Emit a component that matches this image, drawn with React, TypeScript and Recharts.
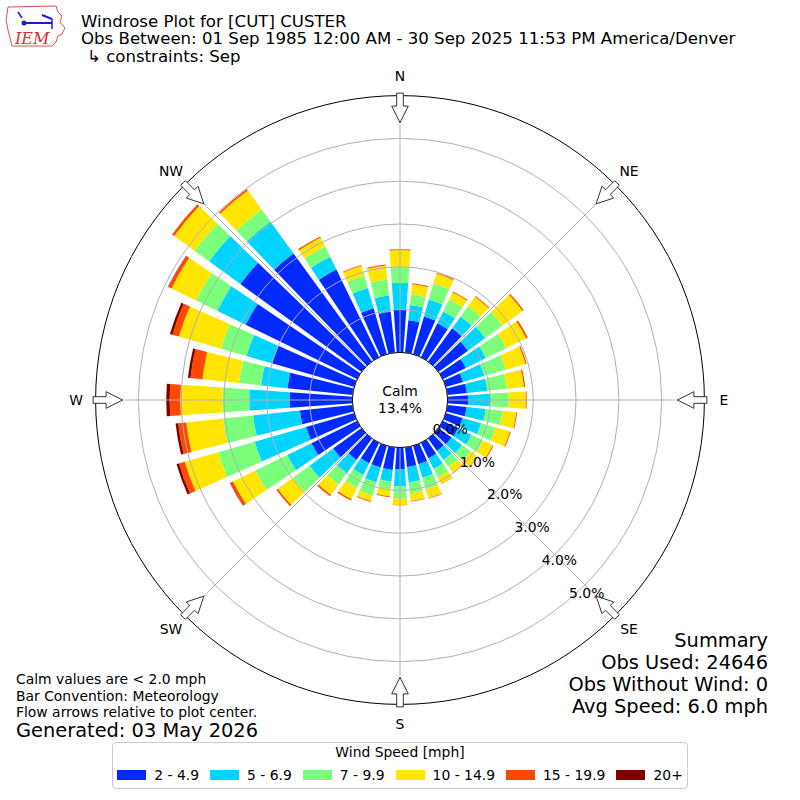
import React from "react";
import {
  RadialBarChart,
  RadialBar,
  PolarAngleAxis,
  PolarRadiusAxis,
  PolarGrid,
} from "recharts";

const FONT = "DejaVu Sans, Verdana, sans-serif";

// plot geometry (pixels)
const CX = 400;
const CY = 400;
const INNER_R = 47.6;
const OUTER_R = 304.4;

// direction bins (degrees, meteorological convention)
const directions = [
  0, 10, 20, 30, 40, 50, 60, 70, 80, 90, 100, 110, 120, 130, 140, 150, 160, 170,
  180, 190, 200, 210, 220, 230, 240, 250, 260, 270, 280, 290, 300, 310, 320, 330, 340, 350,
];

const speedBins = ["2 - 4.9", "5 - 6.9", "7 - 9.9", "10 - 14.9", "15 - 19.9", "20+"];
const binColors = ["#002aff", "#00d4ff", "#7bff7b", "#ffe500", "#ff4800", "#800000"];

// percent of observations per direction, one array per speed bin
const speed2to5 = [
  1.0, 0.76, 0.92, 0.88, 0.96, 0.85, 0.6, 0.42, 0.46, 0.49, 0.45, 0.41, 0.4, 0.38, 0.36, 0.4, 0.45, 0.46,
  0.51, 0.53, 0.53, 0.53, 0.62, 0.82, 1.19, 1.17, 1.24, 1.47, 1.53, 2.0, 2.9, 3.5, 3.12, 2.28, 1.12, 0.96,
];
const speed5to7 = [
  0.63, 0.36, 0.41, 0.31, 0.34, 0.5, 0.52, 0.52, 0.48, 0.51, 0.45, 0.45, 0.35, 0.3, 0.26, 0.28, 0.33, 0.36,
  0.4, 0.27, 0.36, 0.31, 0.39, 0.68, 0.63, 1.25, 1.1, 0.94, 0.62, 0.62, 0.74, 0.9, 0.92, 0.33, 0.49, 0.38,
];
const speed7to10 = [
  0.35, 0.25, 0.39, 0.31, 0.3, 0.5, 0.53, 0.52, 0.46, 0.43, 0.4, 0.35, 0.3, 0.25, 0.2, 0.22, 0.28, 0.26,
  0.28, 0.19, 0.32, 0.33, 0.32, 0.48, 0.83, 0.89, 0.7, 0.63, 0.52, 0.62, 0.55, 0.42, 0.35, 0.27, 0.3, 0.38,
];
const speed10to15 = [
  0.41, 0.24, 0.24, 0.19, 0.27, 0.58, 0.52, 0.48, 0.4, 0.4, 0.32, 0.35, 0.25, 0.2, 0.17, 0.17, 0.22, 0.18,
  0.15, 0.16, 0.14, 0.3, 0.3, 0.44, 0.58, 0.81, 0.87, 0.98, 0.86, 1.02, 0.64, 0.59, 0.55, 0.23, 0.24, 0.33,
];
const speed15to20 = [
  0.02, 0.02, 0.02, 0.02, 0.02, 0.03, 0.04, 0.03, 0.03, 0.02, 0.02, 0.02, 0.02, 0.01, 0.01, 0.01, 0.01, 0.01,
  0.01, 0.02, 0.02, 0.03, 0.04, 0.04, 0.07, 0.14, 0.19, 0.25, 0.28, 0.16, 0.08, 0.06, 0.04, 0.03, 0.02, 0.02,
];
const speed20plus = [
  0, 0, 0, 0, 0, 0, 0, 0, 0, 0, 0, 0, 0, 0, 0, 0, 0, 0,
  0, 0, 0, 0, 0, 0, 0.01, 0.06, 0.06, 0.08, 0.06, 0.06, 0.01, 0, 0, 0, 0, 0,
];

const compassTicks = [0, 45, 90, 135, 180, 225, 270, 315];
const compassLabels = ["N", "NE", "E", "SE", "S", "SW", "W", "NW"];
const radiusTicks = [0, 1, 2, 3, 4, 5];
const radiusMax = 5.82;
const calmPercent = 13.4;

const binKeys = ["s2", "s5", "s7", "s10", "s15", "s20"];
const binSeries = [speed2to5, speed5to7, speed7to10, speed10to15, speed15to20, speed20plus];

const data = directions.map((dir, i) => {
  const row: Record<string, number> = { dir };
  binKeys.forEach((key, j) => {
    row[key] = binSeries[j][i];
  });
  return row;
});

// compass bearing -> recharts angle (0 = east, counter-clockwise)
const gridAngles = compassTicks.map((t) => 90 - t);

const noteLines = [
  "Calm values are < 2.0 mph",
  "Bar Convention: Meteorology",
  "Flow arrows relative to plot center.",
];
const summaryLines = ["Summary", "Obs Used: 24646", "Obs Without Wind: 0", "Avg Speed: 6.0 mph"];

// shared polar setup; bearing 0 (north) is centred at the top, bins run clockwise
const polarProps = {
  width: 800,
  height: 800,
  data,
  cx: CX,
  cy: CY,
  innerRadius: INNER_R,
  outerRadius: OUTER_R,
  startAngle: 85,
  endAngle: -275,
  layout: "centric" as const,
  barCategoryGap: "10%",
  margin: { top: 0, right: 0, bottom: 0, left: 0 },
};

function CompassRose() {
  return (
    <g>
      {compassTicks.map((bearing, i) => {
        const a = (bearing * Math.PI) / 180;
        const ux = Math.sin(a);
        const uy = -Math.cos(a);
        const vx = -uy;
        const vy = ux;
        const R = OUTER_R;
        const pt = (r: number, t: number) => `${CX + r * ux + t * vx},${CY + r * uy + t * vy}`;
        const arrow = [
          pt(R + 2.5, -3.3),
          pt(R + 2.5, 3.3),
          pt(R - 10.5, 3.3),
          pt(R - 10.5, 8.3),
          pt(R - 27, 0),
          pt(R - 10.5, -8.3),
          pt(R - 10.5, -3.3),
        ].join(" ");
        return (
          <g key={bearing}>
            <polygon points={arrow} fill="#fff" stroke="#333" strokeWidth={1} />
            <text
              x={CX + (R + 19.5) * ux}
              y={CY + (R + 19.5) * uy}
              textAnchor="middle"
              dominantBaseline="central"
              fontFamily={FONT}
              fontSize={13.9}
              fill="#000"
            >
              {compassLabels[i]}
            </text>
          </g>
        );
      })}
    </g>
  );
}

function RadiusTick(props: any) {
  const { x, y, payload } = props;
  const cx = props.cx ?? CX;
  const cy = props.cy ?? CY;
  const v = payload.value as number;
  return (
    <g>
      {v === 0 && (
        <g>
          <circle cx={cx} cy={cy} r={Math.hypot(x - cx, y - cy)} fill="#fff" stroke="#000" strokeWidth={1} />
          <text x={cx} y={cy - 4} textAnchor="middle" fontFamily={FONT} fontSize={13.9} fill="#000">
            Calm
          </text>
          <text x={cx} y={cy + 13} textAnchor="middle" fontFamily={FONT} fontSize={13.9} fill="#000">
            {calmPercent.toFixed(1)}%
          </text>
        </g>
      )}
      <text x={x + 2} y={y - 3} textAnchor="start" fontFamily={FONT} fontSize={13.9} fill="#000">
        {v.toFixed(1)}%
      </text>
    </g>
  );
}

function Logo() {
  return (
    <g>
      <path
        d="M8,7 L56,6 L58,12 L62,16 L60,22 L65,28 L62,34 L58,36 L56,42 L52,46 L12,46 L10,38 L8,30 L6,20 Z"
        fill="#fff"
        stroke="#e05050"
        strokeWidth={1}
      />
      <line x1={24} y1={23} x2={52} y2={23} stroke="#1a1adc" strokeWidth={2} />
      <circle cx={24} cy={23} r={2.5} fill="#1a1adc" />
      <line x1={42} y1={15} x2={52} y2={19} stroke="#1a1adc" strokeWidth={2} />
      <line x1={52} y1={19} x2={52} y2={29} stroke="#1a1adc" strokeWidth={1.5} />
      <line x1={18} y1={12} x2={22} y2={18} stroke="#1a1adc" strokeWidth={1.5} />
      <text x={15} y={44} fontFamily="DejaVu Serif, serif" fontStyle="italic" fontSize={16} fill="#d03030">
        IEM
      </text>
    </g>
  );
}

export default function App() {
  return (
    <div
      style={{
        position: "absolute",
        left: 0,
        top: 0,
        width: 800,
        height: 800,
        background: "#fff",
        overflow: "hidden",
        fontFamily: FONT,
      }}
    >
      {/* bars */}
      <div style={{ position: "absolute", left: 0, top: 0 }}>
        <RadialBarChart {...polarProps}>
          <PolarAngleAxis type="category" dataKey="dir" axisLine={false} tickLine={false} tick={false} />
          <PolarRadiusAxis
            type="number"
            domain={[0, radiusMax]}
            allowDataOverflow
            ticks={radiusTicks}
            axisLine={false}
            tickLine={false}
            tick={false}
          />
          {binKeys.map((key, j) => (
            <RadialBar
              key={key}
              dataKey={key}
              name={speedBins[j]}
              stackId="wind"
              fill={binColors[j]}
              legendType="none"
              isAnimationActive={false}
            />
          ))}
        </RadialBarChart>
      </div>

      {/* grid, outer ring and radial labels drawn over the bars */}
      <div style={{ position: "absolute", left: 0, top: 0, pointerEvents: "none" }}>
        <RadialBarChart {...polarProps}>
          <PolarGrid gridType="circle" polarAngles={gridAngles} stroke="#b0b0b0" strokeWidth={1} />
          <PolarAngleAxis
            type="category"
            dataKey="dir"
            axisLineType="circle"
            axisLine={{ stroke: "#000", strokeWidth: 1 }}
            tickLine={false}
            tick={false}
          />
          <PolarRadiusAxis
            type="number"
            domain={[0, radiusMax]}
            allowDataOverflow
            ticks={radiusTicks}
            angle={-50.3}
            axisLine={false}
            tickLine={false}
            tick={RadiusTick}
          />
        </RadialBarChart>
      </div>

      <svg width={800} height={800} style={{ position: "absolute", left: 0, top: 0, pointerEvents: "none" }}>
        <CompassRose />
        <Logo />
        <text x={81} y={26.5} fontFamily={FONT} fontSize={16.6} fill="#000">
          Windrose Plot for [CUT] CUSTER
        </text>
        <text x={81} y={44} fontFamily={FONT} fontSize={16.6} fill="#000">
          Obs Between: 01 Sep 1985 12:00 AM - 30 Sep 2025 11:53 PM America/Denver
        </text>
        <text x={87} y={61.5} fontFamily={FONT} fontSize={16.6} fill="#000">
          ↳ constraints: Sep
        </text>
        {noteLines.map((line, i) => (
          <text key={line} x={16} y={684 + i * 16.5} fontFamily={FONT} fontSize={13.9} fill="#000">
            {line}
          </text>
        ))}
        <text x={16} y={737} fontFamily={FONT} fontSize={19.4} fill="#000">
          Generated: 03 May 2026
        </text>
        {summaryLines.map((line, i) => (
          <text
            key={line}
            x={768}
            y={647 + i * 22}
            textAnchor="end"
            fontFamily={FONT}
            fontSize={19.4}
            fill="#000"
          >
            {line}
          </text>
        ))}
      </svg>

      <div
        style={{
          position: "absolute",
          left: 112,
          top: 742,
          width: 576,
          height: 47,
          boxSizing: "border-box",
          border: "1px solid #cccccc",
          borderRadius: 4,
          background: "#fff",
        }}
      >
        <div
          style={{
            position: "absolute",
            top: 1,
            left: 0,
            right: 0,
            textAlign: "center",
            fontSize: 13.9,
            lineHeight: "17px",
          }}
        >
          Wind Speed [mph]
        </div>
        <div
          style={{
            position: "absolute",
            top: 24,
            left: 0,
            right: 0,
            height: 16,
            display: "flex",
            justifyContent: "center",
            alignItems: "center",
            gap: 11,
          }}
        >
          {speedBins.map((bin, j) => (
            <div key={bin} style={{ display: "flex", alignItems: "center" }}>
              <span style={{ display: "inline-block", width: 29, height: 10, background: binColors[j] }} />
              <span style={{ marginLeft: 8, fontSize: 13.9, lineHeight: "16px", whiteSpace: "nowrap" }}>
                {bin}
              </span>
            </div>
          ))}
        </div>
      </div>
    </div>
  );
}
